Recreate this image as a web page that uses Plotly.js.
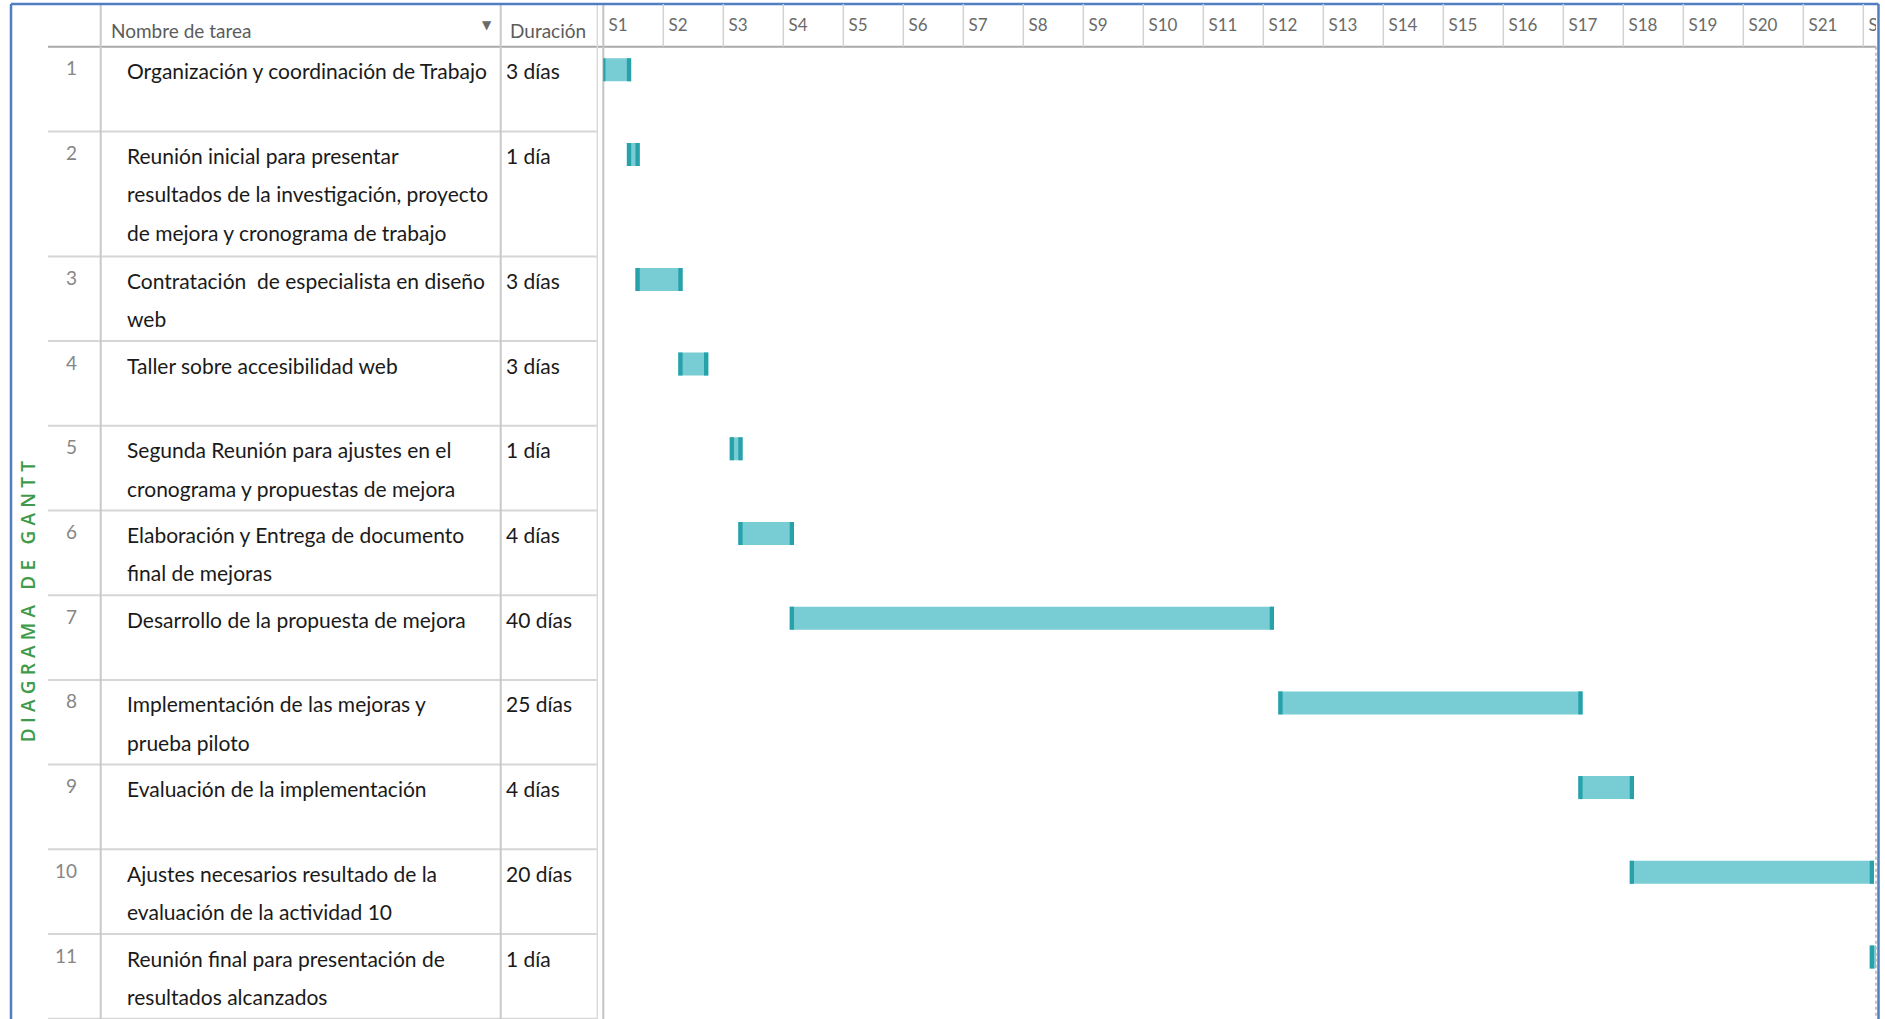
<!DOCTYPE html>
<html>
<head>
<meta charset="utf-8">
<script src="https://cdn.plot.ly/plotly-3.0.1.min.js"></script>
<style>
  html, body { margin: 0; padding: 0; background: #ffffff; }
  #gantt { width: 1885px; height: 1019px; }
  /* the vertical side title is spaced out along its length */
  #gantt .annotation[data-index="0"] .annotation-text { letter-spacing: 5.2px; }
</style>
</head>
<body>
<div id="gantt"></div>
<script>
// ---- project data -------------------------------------------------------
const taskIds = [1, 2, 3, 4, 5, 6, 7, 8, 9, 10, 11];

// task names, "\n" marks where each name wraps inside its cell
const taskNames = [
  'Organización y coordinación de Trabajo',
  'Reunión inicial para presentar\nresultados de la investigación, proyecto\nde mejora y cronograma de trabajo',
  'Contratación\u00a0 de especialista en diseño\nweb',
  'Taller sobre accesibilidad web',
  'Segunda Reunión para ajustes en el\ncronograma y propuestas de mejora',
  'Elaboración y Entrega de documento\nfinal de mejoras',
  'Desarrollo de la propuesta de mejora',
  'Implementación de las mejoras y\nprueba piloto',
  'Evaluación de la implementación',
  'Ajustes necesarios resultado de la\nevaluación de la actividad 10',
  'Reunión final para presentación de\nresultados alcanzados'
];

// duration of each task in working days (Monday to Friday)
const durationDays = [3, 1, 3, 3, 1, 4, 40, 25, 4, 20, 1];

// first working day of each task, counted in calendar days from the Monday of S1
const startDay = [0, 3, 4, 9, 15, 16, 22, 79, 114, 120, 148];

// week labels of the timescale
const weekLabels = ['S1', 'S2', 'S3', 'S4', 'S5', 'S6', 'S7', 'S8', 'S9', 'S10', 'S11',
                    'S12', 'S13', 'S14', 'S15', 'S16', 'S17', 'S18', 'S19', 'S20', 'S21', 'S22'];

const headerLabels = ['Nombre de tarea', 'Duración'];
const sideTitle = 'DIAGRAMA DE GANTT';

// ---- geometry and style -------------------------------------------------
const W = 1885, H = 1019;
const DAYS_PER_WEEK = 7;
const WEEK_PX = 60;
const X0 = 603.3, X1 = 1876;             // timescale pane, in page pixels
const HEAD_TOP = 4, HEAD_BOT = 46.7;      // header band
const ROW_BASE = 84.7, ROW_EXTRA = 40.3;  // row height and extra height per wrapped line beyond two
const FIRST_LINE = 24, LINE_H = 38.3;     // text baseline grid inside a row
const BAR_OFF = 23, BAR_H = 23;           // bar centre offset and thickness
const BAR_PAD = 0.25, CAP_W = 0.5;        // bar overhang and end-cap width, in days

const FONT = 'Lato, "Open Sans", sans-serif';
const TEXT = '#1a1a1a', GREY = '#6a6a6a', GRID = '#d6d6d6';
const FILL = '#78cdd4', CAP = '#27a1aa', FRAME = '#4f7fc1';

const px = v => v / W;                    // page pixel -> paper x

// last calendar day (exclusive) after counting n working days from start
function workEnd(start, n) {
  let d = start, left = n;
  for (;;) {
    const wd = ((d % DAYS_PER_WEEK) + DAYS_PER_WEEK) % DAYS_PER_WEEK;
    if (wd < 5) {
      left -= 1;
      if (left === 0) return d + 1;
    }
    d += 1;
  }
}

// ---- rows ---------------------------------------------------------------
const nameLines = taskNames.map(s => s.split('\n'));
const rowTop = [];
let yCursor = HEAD_BOT;
nameLines.forEach(lines => {
  rowTop.push(yCursor);
  yCursor += ROW_BASE + Math.max(0, lines.length - 2) * ROW_EXTRA;
});
const rowBottom = rowTop.map((t, i) => (i + 1 < rowTop.length ? rowTop[i + 1] : yCursor));

// ---- bars ---------------------------------------------------------------
const endDay = startDay.map((s, i) => workEnd(s, durationDays[i]));
const barY = rowTop.map(t => t + BAR_OFF);
const barBase = startDay.map(s => s - BAR_PAD);
const barLen = startDay.map((s, i) => endDay[i] - s + 2 * BAR_PAD);
const capLen = startDay.map(() => CAP_W);
const capEndBase = endDay.map(e => e + BAR_PAD - CAP_W);

const barCommon = { type: 'bar', orientation: 'h', y: barY, width: BAR_H,
                    hoverinfo: 'skip', showlegend: false };

const traces = [
  Object.assign({}, barCommon, { x: barLen, base: barBase,
    marker: { color: FILL, line: { width: 0 } } }),
  Object.assign({}, barCommon, { x: capLen, base: barBase,
    marker: { color: CAP, line: { width: 0 } } }),
  Object.assign({}, barCommon, { x: capLen, base: capEndBase,
    marker: { color: CAP, line: { width: 0 } } }),
  {
    type: 'scatter', mode: 'text',
    x: weekLabels.map((_, k) => k * DAYS_PER_WEEK + 0.6),
    y: weekLabels.map(() => 27),
    text: weekLabels,
    textposition: 'middle right',
    textfont: { family: FONT, size: 17, color: GREY },
    cliponaxis: true, hoverinfo: 'skip', showlegend: false
  }
];

// ---- table text ---------------------------------------------------------
const annotations = [];
const ann = o => annotations.push(Object.assign({
  xref: 'paper', yref: 'y', showarrow: false, xanchor: 'left', yanchor: 'middle',
  font: { family: FONT, size: 21, color: TEXT }
}, o));

// side title (index 0, spaced out by the stylesheet)
ann({ text: sideTitle, x: px(28), y: 599, xanchor: 'center', textangle: -90,
      font: { family: '"Open Sans", sans-serif', size: 19, weight: 600, color: '#3f9b4b' } });

ann({ text: headerLabels[0], x: px(109), y: 30, font: { family: FONT, size: 19, color: '#5c5c5c' } });
ann({ text: headerLabels[1], x: px(508), y: 30, font: { family: FONT, size: 19, color: '#5c5c5c' } });
ann({ text: '\u25BC', x: px(487), y: 25, xanchor: 'center', font: { family: 'DejaVu Sans, sans-serif', size: 12, color: '#6a6a6a' } });

taskIds.forEach((id, i) => {
  ann({ text: String(id), x: px(79), y: rowTop[i] + 21, xanchor: 'right',
        font: { family: FONT, size: 19, color: '#868686' } });
  nameLines[i].forEach((line, j) => {
    ann({ text: line, x: px(125), y: rowTop[i] + FIRST_LINE + j * LINE_H });
  });
  const d = durationDays[i];
  ann({ text: d + (d === 1 ? ' día' : ' días'), x: px(503.5), y: rowTop[i] + FIRST_LINE });
});

// ---- rules and frame ----------------------------------------------------
const shapes = [];
const line = (x0, y0, x1, y1, color, width, xref, dash) => shapes.push({
  type: 'line', xref: xref || 'paper', yref: 'y', x0, y0, x1, y1,
  line: { color, width, dash: dash || 'solid' }, layer: 'below'
});

// header bottom rule across table and timescale
line(px(48), HEAD_BOT, px(X1), HEAD_BOT, '#a9a9a9', 2);
// row rules in the table
rowBottom.forEach(b => line(px(48), b, px(597.3), b, GRID, 2));
// column rules
[100.7, 500.7].forEach(x => line(px(x), HEAD_TOP, px(x), H, '#c9c9c9', 2));
line(px(597.3), HEAD_TOP, px(597.3), H, '#dadada', 1.5);
line(px(X0), HEAD_TOP, px(X0), H, '#c4c4c4', 2);
// week separators in the timescale header
weekLabels.forEach((_, k) => {
  if (k > 0) line(k * DAYS_PER_WEEK, HEAD_TOP, k * DAYS_PER_WEEK, HEAD_BOT, '#d2d2d2', 1.5, 'x');
});
// right edge of the timescale pane
line(px(X1), HEAD_BOT, px(X1), H, '#b4b4b4', 1.5, 'paper', 'dot');
// outer frame
line(px(11), HEAD_TOP, px(1878.5), HEAD_TOP, FRAME, 2.5);
line(px(11), HEAD_TOP, px(11), H, FRAME, 2.5);
line(px(1878.5), HEAD_TOP, px(1878.5), H, FRAME, 2.5);

// ---- layout -------------------------------------------------------------
const layout = {
  width: W, height: H,
  margin: { l: 0, r: 0, t: 0, b: 0, pad: 0 },
  paper_bgcolor: '#ffffff', plot_bgcolor: '#ffffff',
  showlegend: false, barmode: 'overlay',
  xaxis: { domain: [px(X0), px(X1)], range: [0, (X1 - X0) / (WEEK_PX / DAYS_PER_WEEK)],
           visible: false, fixedrange: true },
  yaxis: { domain: [0, 1], range: [H, 0], visible: false, fixedrange: true },
  annotations, shapes
};

Plotly.newPlot('gantt', traces, layout, { staticPlot: true, displayModeBar: false });
</script>
</body>
</html>
